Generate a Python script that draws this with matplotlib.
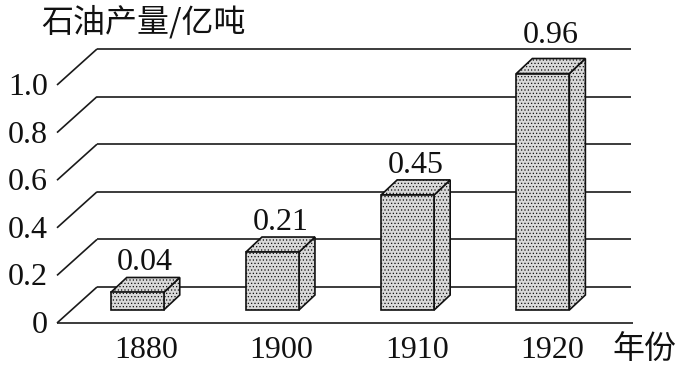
import matplotlib
matplotlib.use('Agg')
import matplotlib.pyplot as plt
from matplotlib.patches import Polygon

years = ['1880', '1900', '1910', '1920']
output = [0.04, 0.21, 0.45, 0.96]
ticks = [0, 0.2, 0.4, 0.6, 0.8, 1.0]
tick_labels = ['0', '0.2', '0.4', '0.6', '0.8', '1.0']
y_title = '石油产量/亿吨'
x_title = '年份'


def main():
    plt.rcParams['hatch.color'] = '#a6a6a6'
    plt.rcParams['hatch.linewidth'] = 0.5

    fig = plt.figure(figsize=(6.81, 3.66), dpi=100)
    # axes = the front plane of the pseudo 3d box
    ax = fig.add_axes([57 / 681, 43 / 366, 576 / 681, 238 / 366])
    x0, x1 = -0.66, 3.6
    ax.set_xlim(x0, x1)
    ax.set_ylim(0, 1)
    ax.axis('off')

    px = (x1 - x0) / 576  # data units per pixel
    py = 1 / 238
    line_kw = dict(color='#1a1a1a', lw=1.2, clip_on=False, solid_capstyle='butt')
    serif = dict(family='Liberation Serif', fontsize=23, color='#111111')
    cjk = dict(family=['Noto Sans CJK SC', 'DejaVu Sans'], fontsize=23,
               color='#111111', weight='light')

    # back wall lines + diagonals to the front ticks
    wx, wy = 40 * px, 36 * py
    for t, lab in zip(ticks, tick_labels):
        ax.plot([x0 + wx, x0 + 574 * px], [t + wy, t + wy], zorder=1, **line_kw)
        ax.plot([x0, x0 + wx], [t, t + wy], zorder=1, **line_kw)
        ax.text(x0 - 9 * px, t - 10 * py, lab, ha='right', va='baseline', **serif)
    ax.plot([x0, x1], [0, 0], zorder=1, **line_kw)

    # bars, value read on the back wall (top back edge)
    face = '#d9d9d9'
    dx, dy = 16 * px, 15 * py
    half = 26.5 * px
    base = 13 * py
    for i, v in enumerate(output):
        cx = i - 9 * px
        l, r = cx - half, cx + half
        top = v + wy - dy
        front = [(l, base), (r, base), (r, top), (l, top)]
        upper = [(l, top), (r, top), (r + dx, top + dy), (l + dx, top + dy)]
        side = [(r, base), (r + dx, base + dy), (r + dx, top + dy), (r, top)]
        for pts in (side, upper, front):
            ax.add_patch(Polygon(pts, closed=True, facecolor=face, edgecolor='#111111',
                                 lw=1.2, hatch='.....', zorder=3, clip_on=False,
                                 joinstyle='miter'))
        lab_y = top + dy + 7 * py
        # keep the label clear of a back wall line it would sit on
        for t in ticks:
            if t + wy - 4 * py < lab_y + 22 * py and lab_y < t + wy + 4 * py:
                lab_y = t + wy + 6 * py
        ax.text(cx + dx / 2, lab_y, f'{v:.2f}', ha='center', va='baseline', **serif)
        ax.text(i, -27 * py, years[i], ha='center', va='center', **serif)

    ax.text(x0 + (612 - 57) * px, -27 * py, x_title, ha='left', va='center', **cjk)
    ax.text(x0 + (41 - 57) * px, 301 * py, y_title, ha='left', va='center', **cjk)

    fig.savefig('out.png', dpi=100)


if __name__ == '__main__':
    main()
